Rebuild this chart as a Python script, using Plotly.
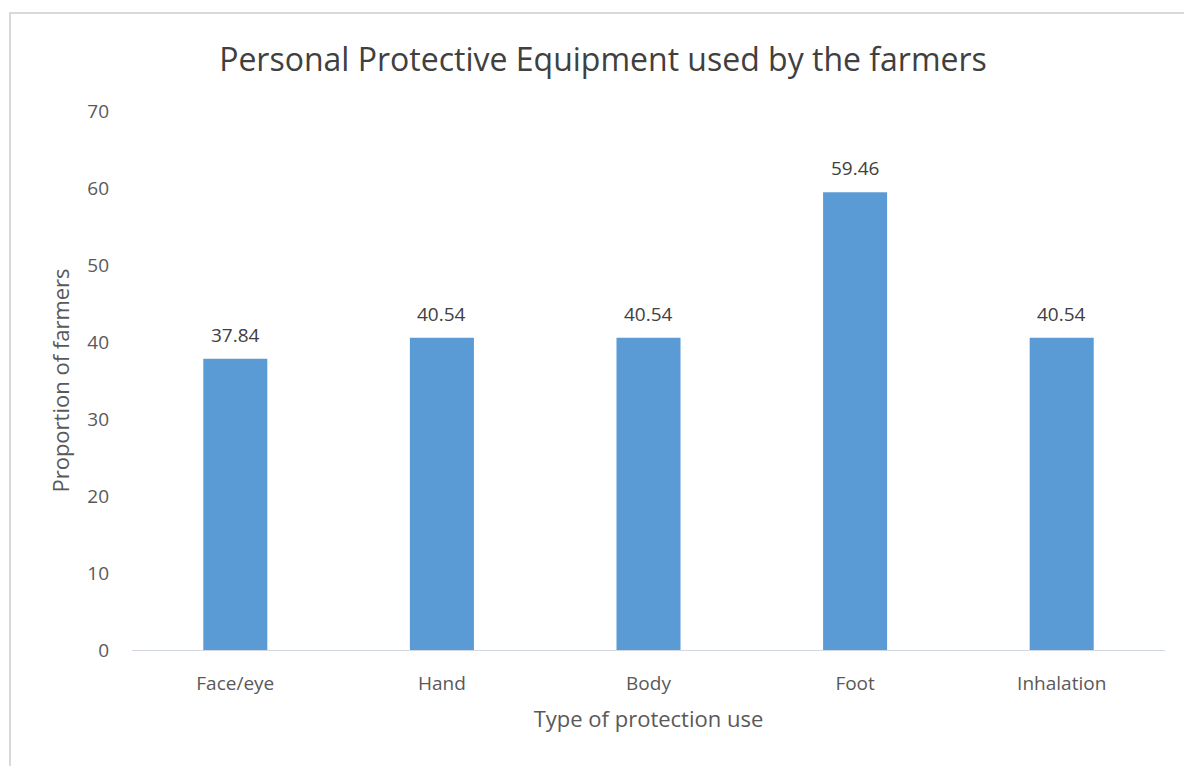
import plotly.graph_objects as go

categories = ["Face/eye", "Hand", "Body", "Foot", "Inhalation"]
values = [37.84, 40.54, 40.54, 59.46, 40.54]
labels = ["37.84", "40.54", "40.54", "59.46", "40.54"]

font_family = "Open Sans, Liberation Sans, sans-serif"
W, H = 1184, 766
L, R, T, B = 132, 19, 111, 116
pw, ph = W - L - R, H - T - B

fig = go.Figure(go.Bar(
    x=categories, y=values,
    marker=dict(color="#5B9BD5", line=dict(width=0)),
    width=0.31, cliponaxis=False, hoverinfo="x+y",
))

annotations = [dict(x=c, y=v, text=t, xref="x", yref="y", showarrow=False,
                    yanchor="bottom", yshift=9,
                    font=dict(size=19, color="#404040", family=font_family))
               for c, v, t in zip(categories, values, labels)]

fig.update_layout(
    width=W, height=H,
    margin=dict(l=L, r=R, t=T, b=B),
    paper_bgcolor="white", plot_bgcolor="white",
    showlegend=False,
    annotations=annotations,
    title=dict(text="Personal Protective Equipment used by the farmers",
               x=603 / W, xanchor="center", y=1 - 60 / H, yanchor="middle",
               font=dict(size=32, color="#404040", family=font_family)),
    xaxis=dict(showgrid=False, showline=True, linecolor="#D3D9E2", linewidth=1,
               ticks="", ticklabelstandoff=16,
               tickfont=dict(size=19, color="#595959", family=font_family),
               title=dict(text="Type of protection use", standoff=16,
                          font=dict(size=22, color="#595959", family=font_family))),
    yaxis=dict(range=[0, 70], dtick=10, showgrid=False, zeroline=False, showline=False,
               ticks="", ticklabelstandoff=22,
               tickfont=dict(size=19, color="#595959", family=font_family),
               title=dict(text="Proportion of farmers", standoff=11,
                          font=dict(size=22, color="#595959", family=font_family))),
    shapes=[dict(type="rect", xref="paper", yref="paper",
                 x0=(10 - L) / pw, x1=(1190 - L) / pw,
                 y0=(B - 757) / ph, y1=(H - 13 - B) / ph,
                 line=dict(color="#D9D9D9", width=2), layer="below")],
)

fig.write_html("out.html")
